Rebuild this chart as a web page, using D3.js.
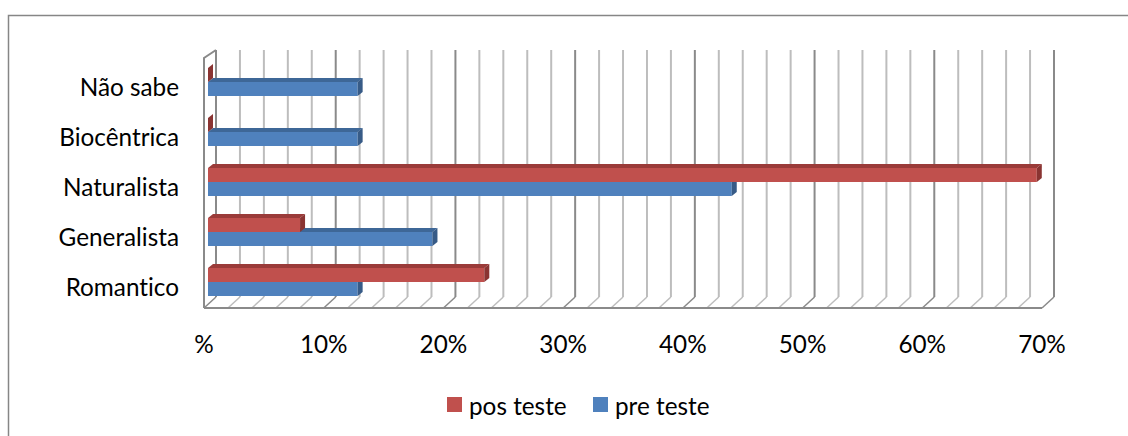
<!DOCTYPE html>
<html>
<head>
<meta charset="utf-8">
<script src="https://cdn.jsdelivr.net/npm/d3@7"></script>
<style>
  html, body { margin: 0; padding: 0; background: #fff; }
  svg { display: block; }
  text { font-family: Lato, "Open Sans", sans-serif; fill: #000; font-variant-ligatures: none; font-feature-settings: "liga" 0; }
</style>
</head>
<body>
<svg id="chart" width="1128" height="436"></svg>
<script>
// ---- data ----
const categories = ["Não sabe", "Biocêntrica", "Naturalista", "Generalista", "Romantico"];
const seriesNames = ["pos teste", "pre teste"];
const posTeste = [0, 0, 69.23, 7.69, 23.08];
const preTeste = [12.5, 12.5, 43.75, 18.75, 12.5];
const tickValues = [0, 10, 20, 30, 40, 50, 60, 70];
const tickLabels = ["%", "10%", "20%", "30%", "40%", "50%", "60%", "70%"];
const gridValues = d3.range(0, 70.001, 2);

const colors = { "pos teste": "#C0504D", "pre teste": "#4F81BD" };
const darkTop = { "pos teste": "#9A3B39", "pre teste": "#3E6797" };
const darkSide = { "pos teste": "#8A3432", "pre teste": "#375B87" };

const svg = d3.select("#chart");
const FS = "24.3px";

// outer frame
svg.append("rect").attr("x", 8.5).attr("y", 15.5).attr("width", 1300).attr("height", 600)
  .attr("fill", "none").attr("stroke", "#868686").attr("stroke-width", 1.5);

// scales
const depthX = 12;
const xFront = d3.scaleLinear().domain([0, 70]).range([204, 1042]);
const xBack = v => xFront(v) + depthX;
const xBar = v => xFront(v) + 4;
const yBackTop = 50, yBackBottom = 297, yFront = 308, yFrontTop = 58;

const y = d3.scaleBand().domain(categories).range([57, 307]).padding(0);

const g = svg.append("g");

// back wall gridlines
g.selectAll("line.grid").data(gridValues).join("line")
  .attr("class", "grid")
  .attr("x1", d => xBack(d)).attr("x2", d => xBack(d))
  .attr("y1", yBackTop).attr("y2", yBackBottom)
  .attr("stroke", d => (Math.round(d) % 10 === 0 ? "#8a8a8a" : "#bdbdbd"))
  .attr("stroke-width", 2);

// floor slants
g.selectAll("line.floor").data(gridValues).join("line")
  .attr("class", "floor")
  .attr("x1", d => xFront(d)).attr("y1", yFront)
  .attr("x2", d => xBack(d)).attr("y2", yBackBottom)
  .attr("stroke", d => (Math.round(d) % 10 === 0 ? "#8a8a8a" : "#bdbdbd"))
  .attr("stroke-width", 1.5);

// floor front edge
g.append("line").attr("x1", xFront(0)).attr("x2", xFront(70))
  .attr("y1", yFront).attr("y2", yFront)
  .attr("stroke", "#8a8a8a").attr("stroke-width", 2);

// left wall
g.append("path")
  .attr("d", `M${xFront(0)},${yFront} L${xFront(0)},${yFrontTop} L${xBack(0)},${yBackTop}`)
  .attr("fill", "none").attr("stroke", "#8a8a8a").attr("stroke-width", 2);

// bars
const bdx = 5, bdy = 4, bh = 14;
function drawBar(sel, val, name, yTop) {
  const x0 = xBar(0), x1 = xBar(val);
  const grp = sel.append("g");
  if (x1 > x0) {
    grp.append("rect").attr("x", x0).attr("y", yTop).attr("width", x1 - x0).attr("height", bh)
      .attr("fill", colors[name]);
    grp.append("path")
      .attr("d", `M${x0},${yTop} L${x1},${yTop} L${x1 + bdx},${yTop - bdy} L${x0 + bdx},${yTop - bdy} Z`)
      .attr("fill", darkTop[name]);
  }
  grp.append("path")
    .attr("d", `M${x1},${yTop} L${x1 + bdx},${yTop - bdy} L${x1 + bdx},${yTop + bh - bdy} L${x1},${yTop + bh} Z`)
    .attr("fill", darkSide[name]);
}
const barsG = g.append("g");
categories.forEach((c, i) => {
  const center = y(c) + y.bandwidth() / 2;
  drawBar(barsG, preTeste[i], "pre teste", center);
  drawBar(barsG, posTeste[i], "pos teste", center - bh);
});

// category labels
svg.selectAll("text.cat").data(categories).join("text")
  .attr("class", "cat")
  .attr("x", 179)
  .attr("y", d => y(d) + y.bandwidth() / 2 + 4)
  .attr("text-anchor", "end").attr("dominant-baseline", "central")
  .style("font-size", FS)
  .text(d => d);

// x tick labels
svg.selectAll("text.tick").data(tickValues).join("text")
  .attr("class", "tick")
  .attr("x", d => xFront(d))
  .attr("y", 343)
  .attr("text-anchor", "middle").attr("dominant-baseline", "central")
  .style("font-size", FS)
  .text((d, i) => tickLabels[i]);

// legend
const legendX = [447, 593];
const leg = svg.selectAll("g.leg").data(seriesNames).join("g").attr("class", "leg")
  .attr("transform", (d, i) => `translate(${legendX[i]},397)`);
leg.append("rect").attr("width", 15).attr("height", 15).attr("fill", d => colors[d]);
leg.append("text").attr("x", 22).attr("y", 8).attr("dominant-baseline", "central")
  .style("font-size", FS).text(d => d);
</script>
</body>
</html>
